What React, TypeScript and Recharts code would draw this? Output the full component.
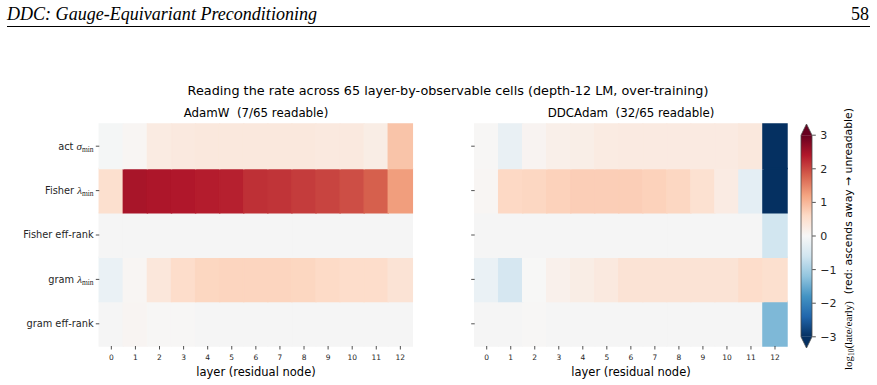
import React from 'react';
import { BarChart, Bar, XAxis, YAxis, Cell } from 'recharts';

// ---- data ---------------------------------------------------------------
const layers = ['0', '1', '2', '3', '4', '5', '6', '7', '8', '9', '10', '11', '12'];

// observable rows, top to bottom
const rowLabels = [
  { text: 'act ', sym: 'σ', sub: 'min' },
  { text: 'Fisher ', sym: 'λ', sub: 'min' },
  { text: 'Fisher eff-rank' },
  { text: 'gram ', sym: 'λ', sub: 'min' },
  { text: 'gram eff-rank' },
];

// log10(late/early) per layer; null = unreadable cell
const adamwActSigmaMin = [-0.05, 0.05, 0.26, 0.3, 0.32, 0.32, 0.32, 0.32, 0.32, 0.3, 0.3, 0.22, 0.86];
const adamwFisherLamMin = [0.5, 2.48, 2.44, 2.42, 2.37, 2.33, 2.2, 2.17, 2.1, 2.03, 1.95, 1.8, 1.26];
const adamwFisherEffRank = [null, null, null, null, null, null, null, null, null, null, null, null, null];
const adamwGramLamMin = [-0.2, 0.05, 0.35, 0.55, 0.65, 0.67, 0.67, 0.67, 0.65, 0.6, 0.55, 0.55, 0.42];
const adamwGramEffRank = [null, 0.06, 0.03, 0.03, null, null, null, null, null, null, null, null, null];

const ddcActSigmaMin = [0.02, -0.22, 0.08, 0.17, 0.2, 0.26, 0.27, 0.27, 0.27, 0.27, 0.28, 0.33, -3.2];
const ddcFisherLamMin = [0.05, 0.62, 0.64, 0.7, 0.74, 0.74, 0.74, 0.7, 0.64, 0.48, 0.25, -0.3, -3.2];
const ddcFisherEffRank = [null, null, null, null, null, null, null, null, null, null, null, null, -0.58];
const ddcGramLamMin = [-0.2, -0.52, 0.01, 0.15, 0.22, 0.3, 0.42, 0.42, 0.42, 0.42, 0.42, 0.55, 0.5];
const ddcGramEffRank = [null, null, 0.03, null, null, null, null, null, null, null, null, null, -1.35];

const colorbarTicks = [-3, -2, -1, 0, 1, 2, 3];

// ---- colour map (RdBu reversed, centred at 0, range -3..3) ---------------
const RDBU_R = [
  '#053061', '#2166ac', '#4393c3', '#92c5de', '#d1e5f0', '#f7f7f7',
  '#fddbc7', '#f4a582', '#d6604d', '#b2182b', '#67001f',
];
const VMIN = -3;
const VMAX = 3;
const BAD = '#f5f5f5';

const hexToRgb = (h: string) => [
  parseInt(h.slice(1, 3), 16),
  parseInt(h.slice(3, 5), 16),
  parseInt(h.slice(5, 7), 16),
];

const colorFor = (v: number | null) => {
  if (v === null || v === undefined) return BAD;
  let t = (v - VMIN) / (VMAX - VMIN);
  t = Math.max(0, Math.min(1, t));
  const pos = t * (RDBU_R.length - 1);
  const i = Math.min(RDBU_R.length - 2, Math.floor(pos));
  const f = pos - i;
  const a = hexToRgb(RDBU_R[i]);
  const b = hexToRgb(RDBU_R[i + 1]);
  const c = a.map((av, k) => Math.round(av + (b[k] - av) * f));
  return `rgb(${c[0]},${c[1]},${c[2]})`;
};

const INK = '#262626';
const SANS = 'DejaVu Sans, sans-serif';
const SERIF = 'Liberation Serif, DejaVu Serif, serif';

// ---- heatmap built from stacked unit bars -------------------------------
const rowTicks = [4.5, 3.5, 2.5, 1.5, 0.5];

const RowTick = (props: any) => {
  const { x, y, payload } = props;
  const idx = Math.round(4.5 - payload.value);
  const lab = rowLabels[idx];
  return (
    <text x={x} y={y} dy={3.4} textAnchor="end" fontSize={9.8} fill={INK} fontFamily={SANS}>
      {lab.text}
      {lab.sym ? (
        <tspan fontFamily={SERIF} fontStyle="italic" fontSize={11} fill={INK}>
          {lab.sym}
        </tspan>
      ) : null}
      {lab.sub ? (
        <tspan fontFamily={SERIF} fontSize={7.5} dy={2} fill={INK}>
          {lab.sub}
        </tspan>
      ) : null}
    </text>
  );
};

type HeatProps = {
  rows: (number | null)[][];
  width: number;
  yAxisWidth: number;
  marginRight: number;
  showRowLabels: boolean;
};

const Heatmap = ({ rows, width, yAxisWidth, marginRight, showRowLabels }: HeatProps) => {
  const data = layers.map((layer) => ({ layer, s0: 1, s1: 1, s2: 1, s3: 1, s4: 1 }));
  // stack position k counts from the bottom row upward
  const stack = [0, 1, 2, 3, 4];
  return (
    <BarChart
      width={width}
      height={385}
      data={data}
      margin={{ top: 124, right: marginRight, bottom: 9, left: 0 }}
      barCategoryGap={0}
      barGap={0}
    >
      <XAxis
        dataKey="layer"
        type="category"
        height={30}
        axisLine={false}
        tickSize={3.5}
        tickMargin={5.5}
        tickLine={{ stroke: INK, strokeWidth: 0.8 }}
        tick={{ fontSize: 7.5, fill: INK, fontFamily: SANS }}
        interval={0}
      />
      {showRowLabels ? (
        <YAxis
          type="number"
          domain={[0, 5]}
          ticks={rowTicks}
          width={yAxisWidth}
          axisLine={false}
          tickSize={3.5}
          tickMargin={2.2}
          tickLine={{ stroke: INK, strokeWidth: 0.8 }}
          tick={<RowTick />}
        />
      ) : (
        <YAxis
          type="number"
          domain={[0, 5]}
          ticks={rowTicks}
          width={yAxisWidth}
          axisLine={false}
          tickSize={3.5}
          tickMargin={2}
          tickLine={{ stroke: INK, strokeWidth: 0.8 }}
          tickFormatter={() => ''}
        />
      )}
      {stack.map((k) => {
        const r = 4 - k;
        return (
          <Bar key={k} dataKey={`s${k}`} stackId="cells" isAnimationActive={false}>
            {rows[r].map((v, j) => {
              const c = colorFor(v);
              return <Cell key={j} fill={c} stroke={c} strokeWidth={1.5} />;
            })}
          </Bar>
        );
      })}
    </BarChart>
  );
};

// ---- colour bar ---------------------------------------------------------
const EXTEND = 0.333; // length of the triangular extensions, in data units

const ColorbarShape = (props: any) => {
  const { x, y, width, height } = props;
  const unit = height / (VMAX - VMIN);
  const ext = EXTEND * unit;
  const top = y;
  const bottom = y + height;
  const mid = x + width / 2;
  const outline = `M${x},${top} L${mid},${top - ext} L${x + width},${top} L${x + width},${bottom} L${mid},${bottom + ext} L${x},${bottom} Z`;
  return (
    <g>
      <polygon points={`${x},${top} ${mid},${top - ext} ${x + width},${top}`} fill={RDBU_R[RDBU_R.length - 1]} />
      <rect x={x} y={top} width={width} height={height} fill="url(#rdbuR)" />
      <polygon points={`${x},${bottom} ${mid},${bottom + ext} ${x + width},${bottom}`} fill={RDBU_R[0]} />
      <path d={outline} fill="none" stroke="#4a4a4a" strokeWidth={0.8} />
    </g>
  );
};

const Colorbar = () => {
  const data = [{ name: 'scale', span: [VMIN, VMAX] }];
  return (
    <BarChart
      width={97}
      height={385}
      data={data}
      margin={{ top: 124, right: 24.7, bottom: 37, left: 21 }}
      barCategoryGap={0}
    >
      <defs>
        <linearGradient id="rdbuR" x1="0" y1="0" x2="0" y2="1">
          {RDBU_R.slice()
            .reverse()
            .map((c, i) => (
              <stop key={i} offset={`${(i / (RDBU_R.length - 1)) * 100}%`} stopColor={c} />
            ))}
        </linearGradient>
      </defs>
      <XAxis dataKey="name" hide />
      <YAxis
        orientation="right"
        type="number"
        domain={[VMIN - EXTEND, VMAX + EXTEND]}
        ticks={colorbarTicks}
        width={40}
        axisLine={false}
        tickSize={3.5}
        tickMargin={4.5}
        tickLine={{ stroke: INK, strokeWidth: 0.8 }}
        tick={{ fontSize: 11, fill: INK, fontFamily: SANS }}
        tickFormatter={(v: number) => (v < 0 ? `\u2212${-v}` : `${v}`)}
        allowDataOverflow
      />
      <Bar dataKey="span" shape={<ColorbarShape />} isAnimationActive={false} />
    </BarChart>
  );
};

// ---- page ---------------------------------------------------------------
export default function App() {
  const adamwRows = [adamwActSigmaMin, adamwFisherLamMin, adamwFisherEffRank, adamwGramLamMin, adamwGramEffRank];
  const ddcRows = [ddcActSigmaMin, ddcFisherLamMin, ddcFisherEffRank, ddcGramLamMin, ddcGramEffRank];
  return (
    <div
      style={{
        position: 'fixed',
        left: 0,
        top: 0,
        width: 877,
        height: 385,
        background: '#fff',
        overflow: 'hidden',
      }}
    >
      <div style={{ position: 'absolute', left: 0, top: 0 }}>
        <Heatmap rows={adamwRows} width={420} yAxisWidth={99.3} marginRight={7.6} showRowLabels />
      </div>
      <div style={{ position: 'absolute', left: 420, top: 0 }}>
        <Heatmap rows={ddcRows} width={380} yAxisWidth={54.7} marginRight={13} showRowLabels={false} />
      </div>
      <div style={{ position: 'absolute', left: 780, top: 0 }}>
        <Colorbar />
      </div>
      <svg
        width={877}
        height={385}
        style={{ position: 'absolute', left: 0, top: 0, pointerEvents: 'none' }}
      >
        <text x={7} y={20} fontFamily={SERIF} fontStyle="italic" fontSize={18} fill="#000" textLength={310} lengthAdjust="spacingAndGlyphs">
          DDC: Gauge-Equivariant Preconditioning
        </text>
        <text x={869} y={20} fontFamily={SERIF} fontSize={18} fill="#000" textAnchor="end">
          58
        </text>
        <line x1={7} x2={870} y1={26.5} y2={26.5} stroke="#000" strokeWidth={1} />

        <text x={448} y={94.5} textAnchor="middle" fontFamily={SANS} fontSize={12.8} fill="#000">
          Reading the rate across 65 layer-by-observable cells (depth-12 LM, over-training)
        </text>
        <text x={256} y={117} textAnchor="middle" fontFamily={SANS} fontSize={11.8} fill="#000">
          {'AdamW\u00a0\u00a0(7/65 readable)'}
        </text>
        <text x={631} y={117} textAnchor="middle" fontFamily={SANS} fontSize={11.8} fill="#000">
          {'DDCAdam\u00a0\u00a0(32/65 readable)'}
        </text>
        <text x={256} y={376} textAnchor="middle" fontFamily={SANS} fontSize={11.5} fill="#000">
          layer (residual node)
        </text>
        <text x={631} y={376} textAnchor="middle" fontFamily={SANS} fontSize={11.5} fill="#000">
          layer (residual node)
        </text>

        <text
          x={852}
          y={239}
          transform="rotate(-90, 852, 239)"
          textAnchor="middle"
          fontSize={10.8}
          fill="#000"
          fontFamily={SANS}
        >
          <tspan fontFamily={SERIF} fontSize={10.8} fill="#000">log</tspan>
          <tspan fontFamily={SERIF} fontSize={7.5} dy={2.2} fill="#000">10</tspan>
          <tspan fontFamily={SERIF} fontSize={10.8} dy={-2.2} fill="#000">(late/early)</tspan>
          <tspan fill="#000">{'\u00a0\u00a0(red: ascends away \u2192 unreadable)'}</tspan>
        </text>
      </svg>
    </div>
  );
}
